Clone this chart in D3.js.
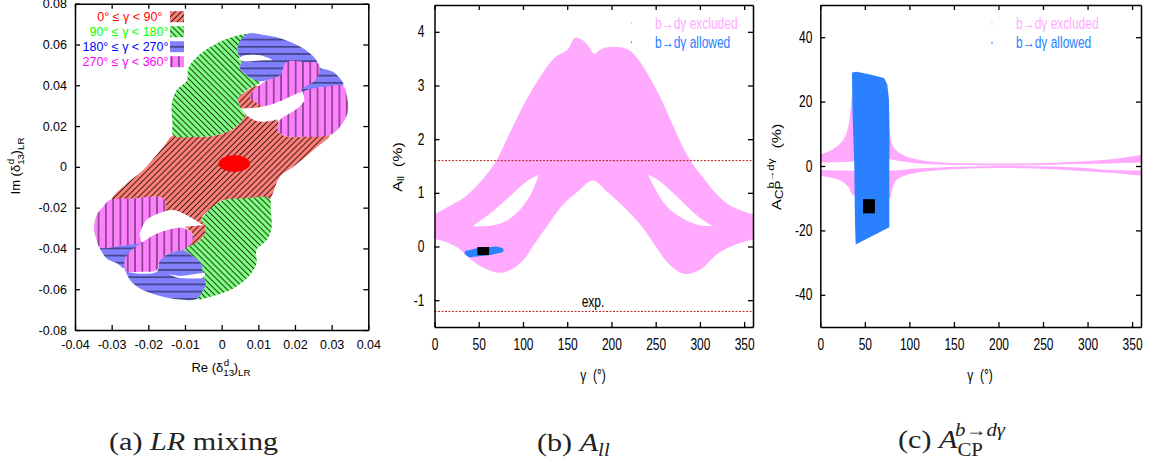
<!DOCTYPE html>
<html><head><meta charset="utf-8">
<script src="https://cdnjs.cloudflare.com/ajax/libs/d3/7.8.5/d3.min.js"></script>
<style>html,body{margin:0;padding:0;background:#fff}svg{display:block}text{font-family:"Liberation Sans",Arial,sans-serif}</style>
</head><body><svg id="c" width="1151" height="463"></svg>
<script>
// ---------- panel (a): Re/Im of delta13 in units of 1e-3
const aRed=[[-13.2,15.5],[-5.9,14.7],[-1.4,15.5],[3.2,18.8],[5.9,25.3],[5,29.4],[4.5,33.5],[6.4,36.7],[10,39.5],[12.3,29.4],[15.5,22],[15.5,17.1],[18.6,14.7],[29.5,15.8],[25,8.2],[19.5,0],[15.9,-4.9],[13.6,-14.7],[13,-16.3],[0.5,-16.3],[-2.3,-19.6],[-5.5,-25.3],[-4.5,-28.6],[-4.5,-32.7],[-6.4,-36.7],[-10.5,-40.8],[-7.7,-34.3],[-10,-29.4],[-15.9,-22.9],[-15.5,-16.3],[-17.7,-14.7],[-30,-16.3],[-25.9,-8.2],[-21.4,-1.6],[-15.9,9.8]];
const aGreenTop=[[-13.2,15.5],[-13.4,21.2],[-13.6,25.3],[-13.6,31],[-12.3,37.6],[-9.5,42.4],[-9.1,48.2],[-6.8,53.9],[-2.3,59.6],[2.3,63.3],[6.8,65],[4.5,59.6],[4.3,56.3],[5.5,52.2],[5,48.2],[6.8,44.9],[10.5,41.6],[6.8,37.6],[4.5,33.5],[5,29.4],[6.4,25.3],[3.2,18.8],[-1.4,15.5],[-5.9,14.7]];
const aGreenBot=[[-10.5,-40.8],[-6.4,-36.7],[-4.5,-32.7],[-4.5,-28.6],[-5.5,-26.1],[-2.3,-19.6],[0.5,-16.3],[5.9,-15.5],[13,-15.5],[13.4,-21.2],[13.6,-30.2],[12.3,-35.9],[9.5,-40.8],[9.5,-47.3],[7.3,-53.9],[3.2,-59.6],[-2.3,-63.3],[-6.8,-64.8],[-5,-60.4],[-4.3,-58],[-5.2,-52.2],[-5.5,-47.3],[-7.7,-44.1]];
const aBlueTop=[[6.8,65],[12.3,64.5],[17.7,62],[22.3,58],[25.9,52.2],[26.4,49],[30.5,46.5],[33.2,40],[26.8,38.9],[21.4,36.7],[19.5,42.4],[12.3,42.4],[10,42.1],[6.8,44.9],[5,48.2],[5.5,52.2],[4.3,56.3],[4.5,59.6]];
const aBlueLeft=[[-33.2,-39.5],[-26.8,-38.4],[-21.8,-36.7],[-21.4,-38.4],[-25.5,-43.3],[-26.4,-49.8],[-28.6,-47.3],[-31.4,-44.9],[-32.7,-41.6]];
const aBlueBot=[[-26.4,-49.8],[-25.5,-51.4],[-17.7,-51.4],[-16.8,-45.7],[-13.2,-41.6],[-10.5,-40.8],[-7.7,-44.1],[-5.5,-47.3],[-5.2,-52.2],[-4.3,-58],[-5,-60.4],[-6.8,-64.8],[-11.4,-65],[-16.8,-63.3],[-22.3,-59.6],[-25,-55.5]];
const aMagUpper=[[7.7,34.3],[10,39.5],[12.3,42.4],[15.9,44.9],[17.7,51.4],[22.7,51.4],[26.4,50.6],[26.6,45.7],[25.5,42.4],[21.8,37.9],[22.1,36.7],[20.5,35.9],[15.9,32.2],[11.4,29.7],[9.1,31.8]];
const aMagRight=[[22.3,36.7],[26.8,38.9],[33.2,39.5],[34.1,35.1],[34.5,27.8],[33.2,22],[30,16],[21.4,14.7],[18.6,14.7],[15.5,17.1],[15.5,22],[16.8,24.5],[20.5,28.6],[22.5,32.7]];
const aMagLeft=[[-30.5,-16.3],[-24.1,-15.5],[-17.7,-14.7],[-15.5,-16.3],[-15.5,-22],[-19.5,-25.3],[-22.3,-32.7],[-21.8,-36.7],[-26.8,-38.4],[-33.2,-39.5],[-34.1,-35.9],[-34.8,-30.2],[-34.1,-23.7],[-32.3,-19.6]];
const aMagLower=[[-26.4,-45.7],[-25.5,-42.4],[-21.4,-36.7],[-17.7,-32.7],[-11.4,-29.7],[-8.6,-31.8],[-7.7,-35.1],[-10.5,-40.8],[-13.2,-41.6],[-16.8,-45.7],[-17.7,-50.6],[-22.3,-51.4],[-25.5,-51.4],[-26.4,-49.8]];
const aHoles=[
 [[5.2,28.6],[10.5,29.4],[15.9,31.8],[20.5,35.9],[22.1,36.7],[22.5,32.7],[20.5,28.6],[16.8,24.5],[13.2,22.5],[9.5,22.5],[6.8,25.3]],
 [[4.5,53.1],[6.4,54.7],[10.5,54.7],[14.1,52.2],[10.5,52.2],[5.9,51.8]],
 [[-22.3,-32.7],[-20.5,-26.1],[-15.9,-22],[-13.2,-21.2],[-9.5,-23.7],[-5,-28.6],[-8.6,-29.1],[-13.2,-30.2],[-17.7,-32.7],[-20.9,-35.9],[-21.8,-36.7]],
 [[-14.5,-52.6],[-11.4,-53.5],[-5.9,-52.2],[-4.5,-51.9],[-5,-54.2],[-8.6,-54.7],[-12.3,-54.2]]];
const aHoleTips=[4,3,5,3];
const aSpot={re:3.45,im:1.6,rRe:4.3,rIm:4.1};
const aLegend=["0° ≤ γ < 90°","90° ≤ γ < 180°","180° ≤ γ < 270°","270° ≤ γ < 360°"];
const aXTicks=[-40,-30,-20,-10,0,10,20,30,40];
const aXLabels=["-0.04","-0.03","-0.02","-0.01","0","0.01","0.02","0.03","0.04"];
const aYTicks=[-80,-60,-40,-20,0,20,40,60,80];
const aYLabels=["-0.08","-0.06","-0.04","-0.02","0","0.02","0.04","0.06","0.08"];
// ---------- panel (b)
const bUpper=[[0,0.6],[19.6,0.78],[30.8,0.88],[49.6,1.16],[68.4,1.56],[83.5,2.06],[102,2.68],[121,3.2],[136,3.52],[151,3.68],[158.7,3.89],[166,3.86],[173.7,3.74],[180.5,3.59],[188.8,3.68],[200,3.72],[218.8,3.67],[230,3.49],[241.4,3.2],[256.4,2.74],[271.5,2.18],[288.4,1.62],[305.3,1.25],[320.3,0.95],[335.6,0.75],[360,0.6]];
const bLower=[[0,0.14],[12,0.09],[25,-0.01],[42,-0.25],[57,-0.41],[74,-0.49],[89,-0.41],[102,-0.22],[113.5,0.06],[128.6,0.41],[143.6,0.75],[162.4,1.03],[179.3,1.23],[194.4,1.03],[215,0.72],[233.8,0.38],[249,0.03],[264,-0.31],[282.8,-0.51],[299.7,-0.44],[320.4,-0.13],[339.3,0.03],[360,0.13]];
const bHoleL=[[42.9,0.375],[60.9,0.59],[83.5,0.91],[102.3,1.19],[118,1.34],[109.8,1],[98.5,0.72],[83.5,0.5],[64.7,0.39]];
const bHoleR=[[241.4,1.34],[250.9,1.03],[264,0.72],[282.9,0.5],[301.7,0.39],[314.9,0.375],[297.9,0.56],[275.4,0.91],[256.6,1.19]];
const bAllowed=[[36.5,-0.12],[50,-0.07],[70,-0.04],[75.5,-0.07],[65,-0.11],[40,-0.16]];
const bExp=[1.6,-1.21];
const bSM={g0:48.5,g1:61.7,v0:-0.16,v1:-0.01};
const bYTicks=[-1,0,1,2,3,4];
// ---------- panel (c)
const cUpperTop=[[0,3.6],[14.6,5.3],[25.8,8.1],[31.4,12.3],[34.4,18.5],[37,22],[70,20],[76,14],[77.4,10.7],[82,6],[93,3.4],[112,1.9],[138,1.1],[175.5,0.8],[231.6,0.8],[269,1.1],[306,1.6],[336,2.4],[360,3.4]];
const cUpperBot=[[0,1.1],[33,1.35],[78,2.1],[82,1.9],[112,0.8],[157,0.3],[231,0.2],[288,0.6],[325,0.8],[360,1.1]];
const cLowerTop=[[0,-1.25],[33,-1.45],[78,-1.45],[112,-0.7],[157,-0.2],[231,0],[288,-0.5],[325,-1.25],[360,-1.45]];
const cLowerBot=[[0,-3],[22,-4.4],[31.4,-6.5],[37,-9],[78,-10],[80,-8],[85.6,-4.4],[100.6,-2.5],[126.8,-1.45],[157,-0.9],[231,-0.7],[288,-1.45],[325,-2.1],[360,-3]];
const cAllowed=[[35.5,29],[40.8,29.3],[55.8,28.4],[71.5,27.3],[75.2,25.3],[77.1,20.6],[77.8,10.2],[77.5,-0.2],[77.5,-19],[39.7,-24.4],[38.9,-16.9],[38.2,-0.2],[36.3,15.4]];
const cSM={g0:48,g1:61.3,v0:-14.7,v1:-10.3};
const cYTicks=[-40,-20,0,20,40];
const gammaTicks=[0,50,100,150,200,250,300,350];
const pink="#ffaaff", blue="#2a80ff";

const svg=d3.select("#c");
const defs=svg.append("defs");
function hatch(id,bg,angle,step,w){
  const p=defs.append("pattern").attr("id",id).attr("patternUnits","userSpaceOnUse")
    .attr("width",step).attr("height",step).attr("patternTransform",`rotate(${angle})`);
  p.append("rect").attr("width",step).attr("height",step).attr("fill",bg);
  p.append("line").attr("x1",step/2).attr("x2",step/2).attr("y1",0).attr("y2",step).attr("stroke","#000").attr("stroke-width",w).attr("stroke-opacity",.8);
}
hatch("hR","#ff8078",45,4.2,1);
hatch("hG","#80ff80",-45,4.2,1);
hatch("hB","#8080ff",90,7.2,1);
hatch("hM","#ff80ff",0,7.3,1);

function frame(x,y,xT,yT,xF,yF,fs,sx,padX,padY){
  const [x0,x1]=x.range(),[y0,y1]=y.range();
  const tidy=g=>{g.selectAll(".domain").attr("stroke","#000").attr("stroke-width",1.5);
    g.selectAll("line").attr("stroke","#000").attr("stroke-width",1.3);};
  const b=svg.append("g").attr("transform",`translate(0,${y0})`).call(d3.axisBottom(x).tickValues(xT).tickSizeInner(-5).tickSizeOuter(0).tickFormat(xF)).call(tidy);
  b.selectAll("text").attr("y",0).attr("x",0).attr("transform",`translate(0,${padX}) scale(${sx},1)`).attr("font-size",fs).attr("fill","#000").style("font-family",'"Liberation Sans"');
  svg.append("g").attr("transform",`translate(0,${y1})`).call(d3.axisTop(x).tickValues(xT).tickSizeInner(-5).tickSizeOuter(0).tickFormat("")).call(tidy);
  const l=svg.append("g").attr("transform",`translate(${x0},0)`).call(d3.axisLeft(y).tickValues(yT).tickSizeInner(-5).tickSizeOuter(0).tickFormat(yF)).call(tidy);
  l.selectAll("text").attr("x",0).attr("transform",`translate(${-padY},0) scale(${sx},1)`).attr("font-size",fs).attr("fill","#000").style("font-family",'"Liberation Sans"');
  svg.append("g").attr("transform",`translate(${x1},0)`).call(d3.axisRight(y).tickValues(yT).tickSizeInner(-5).tickSizeOuter(0).tickFormat("")).call(tidy);
}
function label(x,y,sx,anchor,size,fill,rot){
  return svg.append("text").attr("transform",`translate(${x},${y}) scale(${sx},1)`+(rot?` rotate(${rot})`:""))
    .attr("text-anchor",anchor).attr("font-size",size).attr("fill",fill||"#000");
}
const smooth=d3.curveCatmullRom.alpha(.5);
// two smooth edges joined with sharp corners
function band(line,top,bot){ return line(top)+"L"+line(bot.slice().reverse()).slice(1)+"Z"; }
function lens(line,arr,k){ return line(arr.slice(0,k+1))+"L"+line(arr.slice(k).concat([arr[0]])).slice(1)+"Z"; }

// ===== panel (a)
const ax=d3.scaleLinear().domain([-40,40]).range([75,368.3]);
const ay=d3.scaleLinear().domain([-80,80]).range([330,3.7]);
const aLineS=d3.line().x(d=>ax(d[0])).y(d=>ay(d[1])).curve(smooth);
const aLineC=d3.line().x(d=>ax(d[0])).y(d=>ay(d[1])).curve(d3.curveCatmullRomClosed.alpha(.5));
const aShapes=[[aRed,"hR"],[aGreenTop,"hG"],[aGreenBot,"hG"],[aBlueTop,"hB"],[aBlueLeft,"hB"],[aBlueBot,"hB"],[aMagRight,"hM"],[aMagUpper,"hM"],[aMagLeft,"hM"],[aMagLower,"hM"]];
svg.append("g").selectAll("path").data(aShapes).join("path")
  .attr("d",d=>aLineC(d[0])).attr("fill",d=>`url(#${d[1]})`);
svg.append("g").selectAll("path").data(aHoles).join("path").attr("d",(d,i)=>lens(aLineS,d,aHoleTips[i])).attr("fill","#fff");
svg.append("ellipse").attr("cx",ax(aSpot.re)).attr("cy",ay(aSpot.im))
  .attr("rx",ax(aSpot.re+aSpot.rRe)-ax(aSpot.re)).attr("ry",ay(aSpot.im-aSpot.rIm)-ay(aSpot.im)).attr("fill","#ff0000");
frame(ax,ay,aXTicks,aYTicks,(d,i)=>aXLabels[i],(d,i)=>aYLabels[i],12.5,1,10.5,8);
const legCol=["#ff0000","#00ff00","#0000ff","#ff00ff"], legFill=["hR","hG","hB","hM"], legRight=[162.5,168.5,168.5,168.5];
aLegend.forEach((t,i)=>{
  const yy=16.7+15*i;
  label(legRight[i],yy+4.3,1,"end",12.5,legCol[i]).text(t);
  svg.append("rect").attr("x",170).attr("y",yy-5.5).attr("width",14).attr("height",11).attr("fill",`url(#${legFill[i]})`);
});
function delta(t,pre,size){
  t.append("tspan").text(pre+" (δ");
  t.append("tspan").attr("font-size",size*.75).attr("dy",size*.3).text("13");
  t.append("tspan").attr("font-size",size*.75).attr("dy",-size*.75).attr("dx",-size*.8).text("d");
  t.append("tspan").attr("font-size",size).attr("dy",size*.45).attr("dx",size*.35).text(")");
  t.append("tspan").attr("font-size",size*.75).attr("dy",size*.3).text("LR");
}
delta(label(221,372,1,"middle",13),"Re",13);
delta(label(20,166,1,"middle",13,"#000",-90),"Im",13);

// ===== panel (b)
const bx=d3.scaleLinear().domain([0,360]).range([434.5,753]);
const by=d3.scaleLinear().domain([-1.5,4.5]).range([327,5]);
const bLine=d3.line().x(d=>bx(d[0])).y(d=>by(d[1]));
const bLineS=d3.line().x(d=>bx(d[0])).y(d=>by(d[1])).curve(smooth);
svg.append("path").attr("d",band(bLineS,bUpper,bLower)).attr("fill",pink);
svg.append("g").selectAll("path").data([[bHoleL,4],[bHoleR,5]]).join("path").attr("d",d=>lens(bLineS,d[0],d[1])).attr("fill","#fff");
svg.append("g").selectAll("line").data(bExp).join("line")
  .attr("x1",bx(0)).attr("x2",bx(360)).attr("y1",d=>by(d)).attr("y2",d=>by(d))
  .attr("stroke","#b02020").attr("stroke-width",1).attr("stroke-dasharray","2 1.5");
svg.append("path").attr("d",bLine(bAllowed)+"Z").attr("fill",blue).attr("stroke",blue).attr("stroke-width",4.5).attr("stroke-linejoin","round");
svg.append("rect").attr("x",bx(bSM.g0)).attr("width",bx(bSM.g1)-bx(bSM.g0)).attr("y",by(bSM.v1)).attr("height",by(bSM.v0)-by(bSM.v1)).attr("fill","#000");
frame(bx,by,gammaTicks,bYTicks,d=>d,d=>d,16,.75,11.5,10);
label(593,306.5,.75,"middle",16).text("exp.");
label(593,381,.75,"middle",16).text("γ\u00a0\u00a0(°)");
(function(){
  const t=label(402,167,.75,"middle",16,"#000",-90);
  t.append("tspan").text("A");
  t.append("tspan").attr("font-size",11).attr("dy",3).text("ll");
  t.append("tspan").attr("dy",-3).attr("dx",9).text("(%)");
})();
function legendB(dotX,textX,exW){
  [["b→dγ excluded",pink],["b→dγ allowed",blue]].forEach((d,i)=>{
    label(textX,29+19*i,.75,"start",16,d[1]).text(d[0]);
    svg.append("rect").attr("x",dotX).attr("y",22.5+19*i).attr("width",1).attr("height",exW).attr("fill",d[1]);
  });
}
legendB(631,655,1.5);

// ===== panel (c)
const cx=d3.scaleLinear().domain([0,360]).range([820.3,1141]);
const cy=d3.scaleLinear().domain([-50,50]).range([327,5]);
const cLine=d3.line().x(d=>cx(d[0])).y(d=>cy(d[1]));
const cLineS=d3.line().x(d=>cx(d[0])).y(d=>cy(d[1])).curve(smooth);
[[cUpperTop,cUpperBot],[cLowerTop,cLowerBot]].forEach(b=>{
  svg.append("path").attr("d",band(cLineS,b[0],b[1])).attr("fill",pink);
});
svg.append("path").attr("d",cLine(cAllowed)+"Z").attr("fill",blue);
svg.append("rect").attr("x",cx(cSM.g0)).attr("width",cx(cSM.g1)-cx(cSM.g0)).attr("y",cy(cSM.v1)).attr("height",cy(cSM.v0)-cy(cSM.v1)).attr("fill","#000");
frame(cx,cy,gammaTicks,cYTicks,d=>d,d=>d,16,.75,11.5,8);
label(980,381,.75,"middle",16).text("γ\u00a0\u00a0(°)");
legendB(991.5,1016,2.5);
(function(){
  const t=label(781,210,.75,"start",16,"#000",-90);
  t.append("tspan").text("A");
  t.append("tspan").attr("font-size",13.5).attr("dy",3).text("CP");
  t.append("tspan").attr("font-size",11.5).attr("dy",-12).attr("dx",-8).text("b→dγ");
  t.append("tspan").attr("dy",9).attr("dx",10).text("(%)");
})();

// ===== captions
function cap(x,y,parts){
  const t=svg.append("text").attr("transform",`translate(${x},${y}) scale(1.16,1)`).attr("font-size",26).attr("fill","#222").style("font-family",'"Liberation Serif",serif');
  parts.forEach(p=>{const s=t.append("tspan").text(p[0]);
    if(p[1]) s.attr("font-style","italic");
    if(p[2]) s.attr("font-size",p[2]);
    if(p[3]) s.attr("dy",p[3]);
    if(p[4]) s.attr("dx",p[4]);});
}
cap(109,450,[["(a)\u00a0"],["LR",1],["\u00a0mixing"]]);
cap(537,451,[["(b)\u00a0"],["A",1],["ll",1,18,5]]);
cap(898,448,[["(c)\u00a0"],["A",1],["CP",0,18,8],["b→dγ",1,18,-20,-24]]);
</script></body></html>
